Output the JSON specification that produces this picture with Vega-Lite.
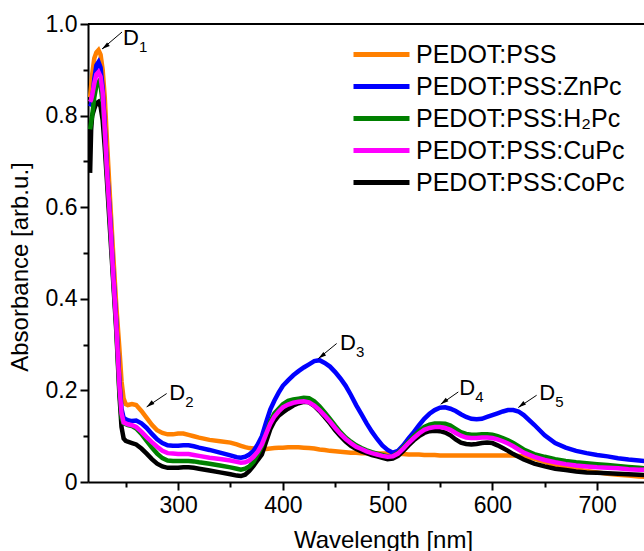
{
  "$schema": "https://vega.github.io/schema/vega-lite/v6.json",
  "width": 556,
  "height": 458,
  "autosize": {"type": "none"},
  "padding": {"left": 88, "top": 24, "right": 0, "bottom": 69},
  "config": {
    "font": "Liberation Sans",
    "view": {"stroke": null},
    "axis": {
      "grid": false,
      "domainColor": "black",
      "domainWidth": 2,
      "tickColor": "black",
      "tickWidth": 2,
      "labelColor": "black",
      "labelFontSize": 23,
      "labelFont": "Liberation Sans",
      "titleFont": "Liberation Sans",
      "titleFontSize": 24,
      "titleFontWeight": "normal",
      "titleColor": "black"
    },
    "legend": {"labelFont": "Liberation Sans"}
  },
  "datasets": {
    "spec": [
      {"w":216,"O":0.84,"B":0.82,"G":0.77,"M":0.83,"K":0.675},
      {"w":217,"O":0.865,"B":0.825,"G":0.785,"M":0.835,"K":0.77},
      {"w":218,"O":0.89,"B":0.835,"G":0.8,"M":0.845,"K":0.8},
      {"w":220,"O":0.925,"B":0.88,"G":0.84,"M":0.87,"K":0.815},
      {"w":222,"O":0.938,"B":0.91,"G":0.865,"M":0.89,"K":0.827},
      {"w":224,"O":0.943,"B":0.917,"G":0.873,"M":0.895,"K":0.83},
      {"w":226,"O":0.933,"B":0.905,"G":0.865,"M":0.885,"K":0.82},
      {"w":228,"O":0.9,"B":0.86,"G":0.83,"M":0.85,"K":0.79},
      {"w":230,"O":0.84,"B":0.78,"G":0.76,"M":0.77,"K":0.73},
      {"w":232,"O":0.75,"B":0.69,"G":0.68,"M":0.685,"K":0.66},
      {"w":235,"O":0.62,"B":0.58,"G":0.57,"M":0.575,"K":0.55},
      {"w":238,"O":0.5,"B":0.46,"G":0.45,"M":0.455,"K":0.44},
      {"w":241,"O":0.385,"B":0.35,"G":0.34,"M":0.345,"K":0.33},
      {"w":244,"O":0.29,"B":0.22,"G":0.2,"M":0.21,"K":0.19},
      {"w":246,"O":0.22,"B":0.16,"G":0.14,"M":0.15,"K":0.12},
      {"w":248,"O":0.182,"B":0.14,"G":0.128,"M":0.13,"K":0.095},
      {"w":250,"O":0.17,"B":0.137,"G":0.126,"M":0.128,"K":0.09},
      {"w":252,"O":0.168,"B":0.135,"G":0.124,"M":0.126,"K":0.088},
      {"w":256,"O":0.17,"B":0.133,"G":0.122,"M":0.124,"K":0.085},
      {"w":260,"O":0.168,"B":0.134,"G":0.117,"M":0.12,"K":0.082},
      {"w":265,"O":0.155,"B":0.128,"G":0.105,"M":0.11,"K":0.073},
      {"w":270,"O":0.14,"B":0.118,"G":0.09,"M":0.098,"K":0.062},
      {"w":275,"O":0.125,"B":0.105,"G":0.075,"M":0.087,"K":0.05},
      {"w":280,"O":0.113,"B":0.093,"G":0.062,"M":0.077,"K":0.04},
      {"w":285,"O":0.107,"B":0.085,"G":0.052,"M":0.068,"K":0.034},
      {"w":290,"O":0.104,"B":0.08,"G":0.047,"M":0.063,"K":0.031},
      {"w":295,"O":0.104,"B":0.079,"G":0.046,"M":0.062,"K":0.031},
      {"w":300,"O":0.106,"B":0.079,"G":0.046,"M":0.061,"K":0.031},
      {"w":305,"O":0.106,"B":0.08,"G":0.046,"M":0.061,"K":0.032},
      {"w":310,"O":0.103,"B":0.08,"G":0.046,"M":0.061,"K":0.032},
      {"w":315,"O":0.1,"B":0.078,"G":0.045,"M":0.059,"K":0.031},
      {"w":320,"O":0.097,"B":0.075,"G":0.043,"M":0.057,"K":0.029},
      {"w":330,"O":0.092,"B":0.07,"G":0.04,"M":0.053,"K":0.025},
      {"w":340,"O":0.089,"B":0.064,"G":0.036,"M":0.05,"K":0.021},
      {"w":350,"O":0.086,"B":0.058,"G":0.032,"M":0.047,"K":0.017},
      {"w":356,"O":0.082,"B":0.054,"G":0.029,"M":0.044,"K":0.014},
      {"w":360,"O":0.079,"B":0.053,"G":0.027,"M":0.042,"K":0.013},
      {"w":364,"O":0.076,"B":0.055,"G":0.029,"M":0.043,"K":0.016},
      {"w":368,"O":0.074,"B":0.06,"G":0.034,"M":0.047,"K":0.024},
      {"w":372,"O":0.073,"B":0.068,"G":0.044,"M":0.055,"K":0.035},
      {"w":376,"O":0.072,"B":0.082,"G":0.06,"M":0.066,"K":0.048},
      {"w":380,"O":0.072,"B":0.1,"G":0.078,"M":0.082,"K":0.06},
      {"w":384,"O":0.072,"B":0.13,"G":0.105,"M":0.105,"K":0.088},
      {"w":388,"O":0.073,"B":0.158,"G":0.132,"M":0.127,"K":0.115},
      {"w":392,"O":0.074,"B":0.178,"G":0.15,"M":0.143,"K":0.133},
      {"w":396,"O":0.075,"B":0.195,"G":0.16,"M":0.154,"K":0.145},
      {"w":400,"O":0.075,"B":0.21,"G":0.17,"M":0.163,"K":0.152},
      {"w":405,"O":0.076,"B":0.222,"G":0.177,"M":0.169,"K":0.16},
      {"w":410,"O":0.076,"B":0.233,"G":0.18,"M":0.173,"K":0.167},
      {"w":415,"O":0.076,"B":0.242,"G":0.182,"M":0.175,"K":0.172},
      {"w":420,"O":0.075,"B":0.25,"G":0.184,"M":0.176,"K":0.175},
      {"w":425,"O":0.074,"B":0.257,"G":0.183,"M":0.174,"K":0.174},
      {"w":430,"O":0.073,"B":0.264,"G":0.176,"M":0.167,"K":0.166},
      {"w":435,"O":0.071,"B":0.266,"G":0.165,"M":0.157,"K":0.155},
      {"w":440,"O":0.07,"B":0.26,"G":0.152,"M":0.145,"K":0.142},
      {"w":445,"O":0.068,"B":0.252,"G":0.138,"M":0.132,"K":0.128},
      {"w":450,"O":0.067,"B":0.24,"G":0.123,"M":0.118,"K":0.113},
      {"w":455,"O":0.066,"B":0.226,"G":0.109,"M":0.105,"K":0.1},
      {"w":460,"O":0.065,"B":0.21,"G":0.097,"M":0.094,"K":0.088},
      {"w":465,"O":0.064,"B":0.19,"G":0.088,"M":0.085,"K":0.079},
      {"w":470,"O":0.064,"B":0.168,"G":0.08,"M":0.077,"K":0.072},
      {"w":475,"O":0.063,"B":0.148,"G":0.074,"M":0.072,"K":0.067},
      {"w":480,"O":0.063,"B":0.128,"G":0.069,"M":0.067,"K":0.063},
      {"w":485,"O":0.062,"B":0.11,"G":0.065,"M":0.063,"K":0.059},
      {"w":490,"O":0.062,"B":0.094,"G":0.062,"M":0.06,"K":0.056},
      {"w":495,"O":0.062,"B":0.08,"G":0.059,"M":0.057,"K":0.053},
      {"w":500,"O":0.062,"B":0.07,"G":0.056,"M":0.055,"K":0.05},
      {"w":505,"O":0.061,"B":0.064,"G":0.057,"M":0.056,"K":0.051},
      {"w":510,"O":0.061,"B":0.068,"G":0.064,"M":0.062,"K":0.057},
      {"w":515,"O":0.061,"B":0.08,"G":0.076,"M":0.073,"K":0.068},
      {"w":520,"O":0.06,"B":0.095,"G":0.088,"M":0.085,"K":0.08},
      {"w":525,"O":0.06,"B":0.109,"G":0.1,"M":0.096,"K":0.091},
      {"w":530,"O":0.06,"B":0.124,"G":0.111,"M":0.106,"K":0.1},
      {"w":535,"O":0.059,"B":0.138,"G":0.12,"M":0.114,"K":0.107},
      {"w":540,"O":0.059,"B":0.149,"G":0.125,"M":0.118,"K":0.111},
      {"w":545,"O":0.059,"B":0.157,"G":0.128,"M":0.12,"K":0.112},
      {"w":550,"O":0.058,"B":0.162,"G":0.128,"M":0.12,"K":0.111},
      {"w":555,"O":0.058,"B":0.163,"G":0.127,"M":0.118,"K":0.108},
      {"w":560,"O":0.058,"B":0.16,"G":0.123,"M":0.114,"K":0.102},
      {"w":565,"O":0.058,"B":0.155,"G":0.116,"M":0.107,"K":0.093},
      {"w":570,"O":0.058,"B":0.148,"G":0.109,"M":0.101,"K":0.086},
      {"w":575,"O":0.058,"B":0.142,"G":0.105,"M":0.097,"K":0.083},
      {"w":580,"O":0.058,"B":0.138,"G":0.103,"M":0.096,"K":0.082},
      {"w":585,"O":0.058,"B":0.137,"G":0.103,"M":0.096,"K":0.083},
      {"w":590,"O":0.058,"B":0.138,"G":0.104,"M":0.097,"K":0.085},
      {"w":595,"O":0.058,"B":0.142,"G":0.104,"M":0.097,"K":0.086},
      {"w":600,"O":0.058,"B":0.146,"G":0.103,"M":0.096,"K":0.085},
      {"w":605,"O":0.058,"B":0.15,"G":0.1,"M":0.093,"K":0.08},
      {"w":610,"O":0.058,"B":0.154,"G":0.096,"M":0.089,"K":0.074},
      {"w":615,"O":0.058,"B":0.157,"G":0.091,"M":0.084,"K":0.068},
      {"w":620,"O":0.058,"B":0.157,"G":0.085,"M":0.078,"K":0.061},
      {"w":625,"O":0.057,"B":0.154,"G":0.078,"M":0.071,"K":0.055},
      {"w":630,"O":0.056,"B":0.146,"G":0.071,"M":0.064,"K":0.049},
      {"w":640,"O":0.051,"B":0.125,"G":0.061,"M":0.055,"K":0.04},
      {"w":650,"O":0.044,"B":0.102,"G":0.055,"M":0.048,"K":0.034},
      {"w":660,"O":0.037,"B":0.085,"G":0.05,"M":0.043,"K":0.029},
      {"w":670,"O":0.032,"B":0.075,"G":0.046,"M":0.039,"K":0.026},
      {"w":680,"O":0.028,"B":0.068,"G":0.043,"M":0.036,"K":0.023},
      {"w":690,"O":0.024,"B":0.063,"G":0.041,"M":0.034,"K":0.021},
      {"w":700,"O":0.021,"B":0.059,"G":0.039,"M":0.032,"K":0.02},
      {"w":710,"O":0.018,"B":0.056,"G":0.037,"M":0.031,"K":0.019},
      {"w":720,"O":0.016,"B":0.052,"G":0.035,"M":0.03,"K":0.018},
      {"w":730,"O":0.014,"B":0.049,"G":0.033,"M":0.028,"K":0.017},
      {"w":740,"O":0.012,"B":0.047,"G":0.031,"M":0.027,"K":0.016},
      {"w":750,"O":0.011,"B":0.045,"G":0.029,"M":0.026,"K":0.015}
    ],
    "names": [
      {"s":"O","name":"PEDOT:PSS"},
      {"s":"B","name":"PEDOT:PSS:ZnPc"},
      {"s":"G","name":"PEDOT:PSS:H₂Pc"},
      {"s":"M","name":"PEDOT:PSS:CuPc"},
      {"s":"K","name":"PEDOT:PSS:CoPc"}
    ],
    "ann": [
      {"d":"1","tx":247.4,"ty":0.954,"x1":246.5,"y1":0.9825,"x2":227.4,"y2":0.9454},
      {"d":"2","tx":291.6,"ty":0.1785,"x1":289.1,"y1":0.1931,"x2":270,"y2":0.1639},
      {"d":"3","tx":454.6,"ty":0.2877,"x1":451.4,"y1":0.3024,"x2":433.9,"y2":0.2696},
      {"d":"4","tx":568.5,"ty":0.1894,"x1":567.5,"y1":0.1966,"x2":550.7,"y2":0.1698},
      {"d":"5","tx":644.8,"ty":0.18,"x1":642.3,"y1":0.1894,"x2":624.8,"y2":0.1626}
    ]
  },
  "layer": [
    {
      "data": {"name": "spec"},
      "transform": [
        {"fold": ["O","B","K","G","M"], "as": ["s","a"]},
        {"lookup": "s", "from": {"data": {"name": "names"}, "key": "s", "fields": ["name"]}}
      ],
      "mark": {"type": "line", "strokeWidth": 4.5, "clip": true},
      "encoding": {
        "x": {
          "field": "w", "type": "quantitative",
          "scale": {"domain": [214, 744.8], "nice": false, "zero": false},
          "axis": {
            "title": "Wavelength [nm]",
            "values": [250,300,350,400,450,500,550,600,650,700],
            "labelExpr": "datum.value % 100 === 0 ? datum.label : ''",
            "tickSize": {"condition": {"test": "datum.value % 100 === 0", "value": 8}, "value": 5},
            "labelPadding": 4,
            "titleX": 295,
            "titleY": 65,
            "titleBaseline": "alphabetic"
          }
        },
        "y": {
          "field": "a", "type": "quantitative",
          "scale": {"domain": [0, 1], "nice": false},
          "axis": {
            "title": "Absorbance [arb.u.]",
            "values": [0,0.1,0.2,0.3,0.4,0.5,0.6,0.7,0.8,0.9,1.0],
            "labelExpr": "datum.value === 0 ? '0' : (round(datum.value*10) % 2 === 0 ? format(datum.value, '.1f') : '')",
            "tickSize": {"condition": {"test": "round(datum.value*10) % 2 === 0", "value": 8}, "value": 5},
            "labelPadding": 3,
            "titleX": -68,
            "titleY": 242.5,
            "titleBaseline": "middle",
            "titleAngle": -90
          }
        },
        "color": {
          "field": "name", "type": "nominal",
          "scale": {
            "domain": ["PEDOT:PSS","PEDOT:PSS:ZnPc","PEDOT:PSS:H₂Pc","PEDOT:PSS:CuPc","PEDOT:PSS:CoPc"],
            "range": ["#FF8000","#0000FF","#008000","#FF00FF","#000000"]
          },
          "legend": {
            "title": null,
            "orient": "none",
            "legendX": 277,
            "legendY": 14,
            "symbolType": "M-2,0H2",
            "symbolStrokeWidth": 5,
            "symbolSize": 784,
            "labelFontSize": 25,
            "labelColor": "black",
            "labelOffset": 18,
            "labelLimit": 0,
            "rowPadding": 2
          }
        }
      }
    },
    {
      "data": {"values": [{}]},
      "mark": {"type": "rule", "color": "black", "strokeWidth": 2},
      "encoding": {"y": {"datum": 1}}
    },
    {
      "data": {"name": "ann"},
      "mark": {"type": "rule", "color": "black", "strokeWidth": 1},
      "encoding": {
        "x": {"field": "x1", "type": "quantitative"},
        "y": {"field": "y1", "type": "quantitative"},
        "x2": {"field": "x2"},
        "y2": {"field": "y2"}
      }
    },
    {
      "data": {"name": "ann"},
      "mark": {"type": "point", "shape": "M0,0L0.55,2L-0.55,2Z", "filled": true, "color": "black", "opacity": 1, "size": 64, "angle": 233},
      "encoding": {
        "x": {"field": "x2", "type": "quantitative"},
        "y": {"field": "y2", "type": "quantitative"}
      }
    },
    {
      "data": {"name": "ann"},
      "mark": {"type": "text", "text": "D", "fontSize": 22, "align": "left", "baseline": "alphabetic", "color": "black"},
      "encoding": {
        "x": {"field": "tx", "type": "quantitative"},
        "y": {"field": "ty", "type": "quantitative"}
      }
    },
    {
      "data": {"name": "ann"},
      "mark": {"type": "text", "fontSize": 15, "align": "left", "baseline": "alphabetic", "dx": 16, "dy": 7, "color": "black"},
      "encoding": {
        "x": {"field": "tx", "type": "quantitative"},
        "y": {"field": "ty", "type": "quantitative"},
        "text": {"field": "d"}
      }
    }
  ]
}
